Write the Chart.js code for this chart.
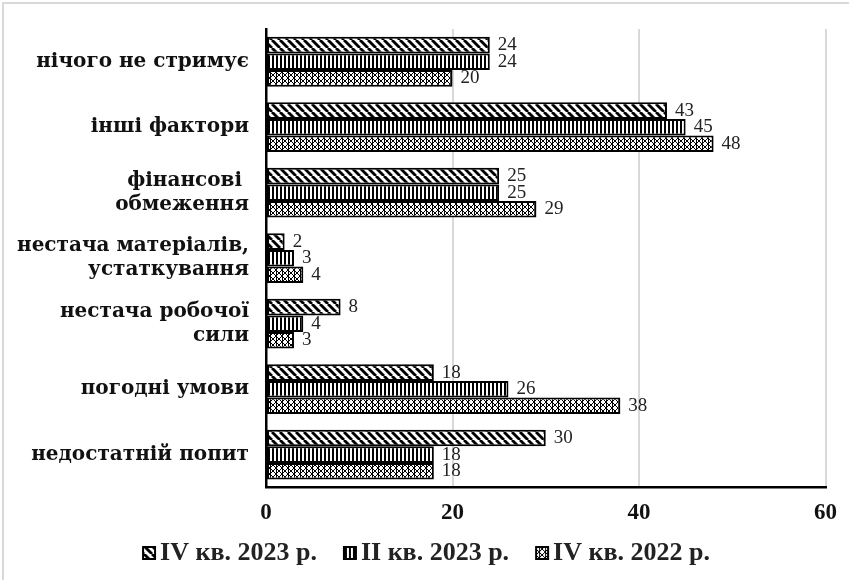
<!DOCTYPE html>
<html>
<head>
<meta charset="utf-8">
<script src="https://cdn.jsdelivr.net/npm/chart.js@4.4.0/dist/chart.umd.min.js"></script>
<style>
  html, body { margin: 0; padding: 0; background: #fff; }
  .frame { position: absolute; left: 2px; top: 2px; width: 849px; height: 580px; box-sizing: border-box;
           border-top: 2px solid #d9d9d9; border-left: 2px solid #d9d9d9; }
  .wrap { position: absolute; left: 0; top: 0; width: 849px; height: 580px; }
</style>
</head>
<body>
<div class="frame"></div>
<div class="wrap"><canvas id="chart"></canvas></div>
<script>
// categories, top to bottom
const categories = [
    'нічого не стримує',
    'інші фактори',
    ['фінансові ', 'обмеження'],
    ['нестача матеріалів,', 'устаткування'],
    ['нестача робочої', 'сили'],
    'погодні умови',
    'недостатній попит'
];
const seriesNames = ['IV кв. 2023 р.', 'II кв. 2023 р.', 'IV кв. 2022 р.'];
const q4_2023 = [24, 43, 25, 2, 8, 18, 30];
const q2_2023 = [24, 45, 25, 3, 4, 26, 18];
const q4_2022 = [20, 48, 29, 4, 3, 38, 18];
const xTicks = [0, 20, 40, 60];

// hatch tiles
function makeTile(kind) {
    const c = document.createElement('canvas');
    const g = c.getContext('2d');
    if (kind === 'diag') {
        c.width = 8; c.height = 8;
        g.fillStyle = '#fff'; g.fillRect(0, 0, 8, 8);
        g.strokeStyle = '#000'; g.lineWidth = 2.8;
        for (let k = -8; k <= 16; k += 8) {
            g.beginPath(); g.moveTo(k, 0); g.lineTo(k + 8, 8); g.stroke();
        }
    } else if (kind === 'vert') {
        c.width = 4; c.height = 4;
        g.fillStyle = '#fff'; g.fillRect(0, 0, 4, 4);
        g.fillStyle = '#000'; g.fillRect(0, 0, 2, 4);
    } else {
        c.width = 6; c.height = 6;
        g.fillStyle = '#fff'; g.fillRect(0, 0, 6, 6);
        g.strokeStyle = '#000'; g.lineWidth = 1;
        g.beginPath(); g.moveTo(0, 0); g.lineTo(6, 6); g.stroke();
        g.beginPath(); g.moveTo(6, 0); g.lineTo(0, 6); g.stroke();
        g.fillStyle = '#000'; g.fillRect(0, 0, 1, 6);
    }
    return c;
}

const tiles = [makeTile('diag'), makeTile('vert'), makeTile('cross')];
const fills = tiles.map(t => document.createElement('canvas').getContext('2d').createPattern(t, 'repeat'));

// legend swatch: a 14px hatched square sitting at the right of a wider transparent canvas,
// so it ends up right next to the legend text
const LEGEND_BOX = 30;
function makeSwatch(tile) {
    const size = 14;
    const c = document.createElement('canvas');
    c.width = LEGEND_BOX + 26; c.height = size;
    const g = c.getContext('2d');
    const x0 = LEGEND_BOX + 8;
    g.fillStyle = g.createPattern(tile, 'repeat');
    g.fillRect(x0, 0, size, size);
    g.strokeStyle = '#000'; g.lineWidth = 2;
    g.strokeRect(x0 + 1, 1, size - 2, size - 2);
    return c;
}
const swatches = tiles.map(makeSwatch);

// value labels to the right of each bar
const valueLabels = {
    id: 'valueLabels',
    afterDatasetsDraw(chart) {
        const { ctx } = chart;
        ctx.save();
        ctx.font = '19px "Liberation Serif", serif';
        ctx.fillStyle = '#222';
        ctx.textBaseline = 'middle';
        chart.data.datasets.forEach((ds, i) => {
            chart.getDatasetMeta(i).data.forEach((bar, j) => {
                ctx.fillText(ds.data[j], bar.x + 8, bar.y);
            });
        });
        ctx.restore();
    }
};

const font = '"Liberation Serif", serif';

new Chart(document.getElementById('chart'), {
    type: 'bar',
    data: {
        labels: categories,
        datasets: [
            { label: seriesNames[0], data: q4_2023, backgroundColor: fills[0] },
            { label: seriesNames[1], data: q2_2023, backgroundColor: fills[1] },
            { label: seriesNames[2], data: q4_2022, backgroundColor: fills[2] }
        ].map(d => Object.assign(d, {
            borderColor: '#000',
            borderWidth: 2,
            borderSkipped: false,
            barPercentage: 1,
            categoryPercentage: 0.76
        }))
    },
    options: {
        indexAxis: 'y',
        responsive: true,
        maintainAspectRatio: false,
        animation: false,
        layout: { padding: { top: 28, right: 22, left: 0, bottom: 4 } },
        plugins: {
            legend: {
                position: 'bottom',
                labels: {
                    color: '#222',
                    font: { family: font, size: 26, weight: 'bold' },
                    usePointStyle: true,
                    pointStyleWidth: LEGEND_BOX,
                    padding: 1,
                    generateLabels: (chart) =>
                        Chart.defaults.plugins.legend.labels.generateLabels(chart)
                            .map((item, i) => Object.assign(item, { pointStyle: swatches[i] }))
                }
            },
            tooltip: { enabled: false }
        },
        scales: {
            x: {
                min: 0,
                max: 60,
                afterBuildTicks: (axis) => { axis.ticks = xTicks.map(v => ({ value: v })); },
                grid: { color: '#d9d9d9', lineWidth: 2, drawTicks: false },
                border: { color: '#000', width: 2.5 },
                ticks: { color: '#111', padding: 12, font: { family: font, size: 23, weight: 'bold' } }
            },
            y: {
                grid: { display: false, drawTicks: false },
                border: { color: '#000', width: 2.5 },
                ticks: { color: '#111', padding: 17, font: { family: '"DejaVu Serif", serif', size: 20, weight: 'bold' } }
            }
        }
    },
    plugins: [valueLabels]
});
</script>
</body>
</html>
